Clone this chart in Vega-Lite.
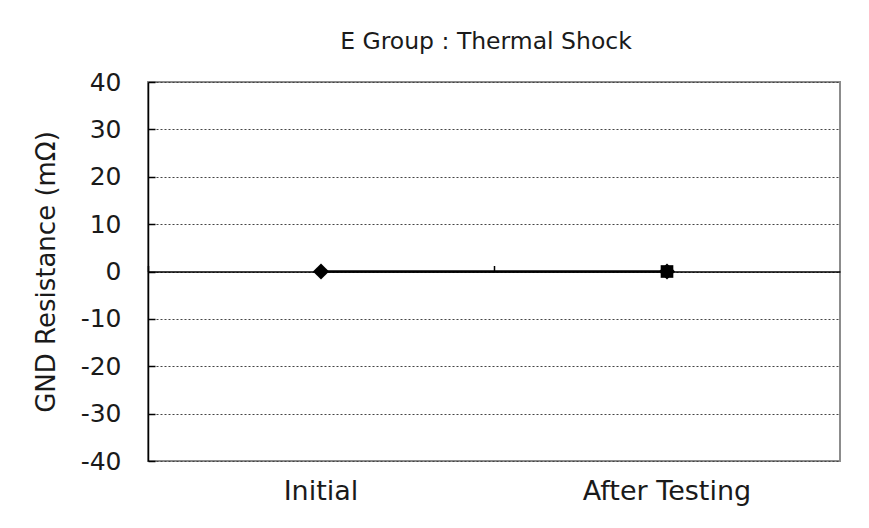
{
  "$schema": "https://vega.github.io/schema/vega-lite/v6.json",
  "width": 692,
  "height": 379,
  "autosize": {"type": "none"},
  "padding": {"left": 148, "top": 82, "right": 29, "bottom": 67},
  "background": "white",
  "title": {
    "text": "E Group : Thermal Shock",
    "font": "DejaVu Sans",
    "fontSize": 23.5,
    "fontWeight": "normal",
    "color": "#1a1a1a",
    "offset": 17,
    "anchor": "middle",
    "dx": -8
  },
  "config": {
    "view": {"stroke": "#8c8c8c", "strokeWidth": 2},
    "font": "DejaVu Sans"
  },
  "data": {
    "values": [
      {"stage": "Initial", "value": 0},
      {"stage": "After Testing", "value": 0}
    ]
  },
  "resolve": {"axis": {"x": "independent"}},
  "layer": [
    {
      "mark": {"type": "line", "color": "black", "strokeWidth": 2.5},
      "encoding": {
        "x": {
          "field": "stage",
          "type": "nominal",
          "sort": ["Initial", "After Testing"],
          "scale": {"type": "band", "paddingInner": 0, "paddingOuter": 0},
          "axis": {
            "orient": "bottom",
            "title": null,
            "domain": false,
            "ticks": false,
            "grid": false,
            "labelAngle": 0,
            "labelFontSize": 27,
            "labelColor": "#1a1a1a",
            "labelPadding": 17
          }
        },
        "y": {
          "field": "value",
          "type": "quantitative",
          "scale": {"domain": [-40, 40], "nice": false},
          "axis": {
            "title": "GND Resistance (mΩ)",
            "titleFontSize": 26,
            "titleFontWeight": "normal",
            "titleColor": "#1a1a1a",
            "titlePadding": 21,
            "values": [-40, -30, -20, -10, 0, 10, 20, 30, 40],
            "labelExpr": "'' + datum.value",
            "labelFontSize": 25,
            "labelColor": "#1a1a1a",
            "labelPadding": 34,
            "domainColor": "black",
            "domainWidth": 1.5,
            "tickColor": "black",
            "tickSize": -7,
            "tickWidth": 1.5,
            "grid": true,
            "gridColor": "#444",
            "gridDash": [2, 2],
            "gridWidth": 1
          }
        }
      }
    },
    {
      "mark": {"type": "point", "shape": "diamond", "filled": true, "color": "black", "size": 260, "opacity": 1},
      "encoding": {
        "x": {
          "field": "stage",
          "type": "nominal",
          "sort": ["Initial", "After Testing"],
          "axis": {
            "orient": "bottom",
            "offset": -189.5,
            "title": null,
            "labels": false,
            "grid": false,
            "domain": true,
            "domainColor": "black",
            "domainWidth": 1.5,
            "ticks": true,
            "bandPosition": 0,
            "tickSize": -6,
            "tickColor": "black",
            "tickWidth": 1.5
          }
        },
        "y": {"field": "value", "type": "quantitative"}
      }
    },
    {
      "transform": [{"filter": "datum.stage === 'After Testing'"}],
      "mark": {"type": "point", "shape": "square", "filled": true, "color": "black", "size": 160, "opacity": 1},
      "encoding": {
        "x": {"field": "stage", "type": "nominal", "sort": ["Initial", "After Testing"], "axis": null},
        "y": {"field": "value", "type": "quantitative"}
      }
    }
  ]
}
